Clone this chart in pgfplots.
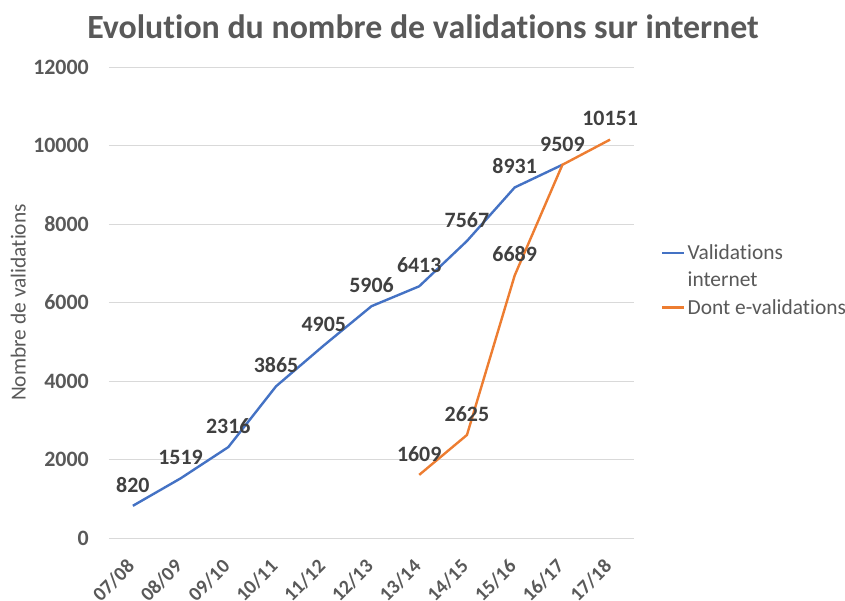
\documentclass[border=0pt]{standalone}
\usepackage{pgfplots}
\pgfplotsset{compat=1.18}
\usepackage{fontspec}
\setmainfont{Carlito}[Ligatures=NoCommon]
\definecolor{cblue}{HTML}{4472C4}
\definecolor{corange}{HTML}{ED7D31}
\definecolor{tgray}{HTML}{595959}
\definecolor{dgray}{HTML}{404040}
\definecolor{ggray}{HTML}{D9D9D9}
\begin{document}
\begin{tikzpicture}
\useasboundingbox (-109bp,-63bp) rectangle (736bp,538bp);
\begin{axis}[
  scale only axis,
  width=525bp, height=471bp,
  xmin=-0.5, xmax=10.5,
  ymin=0, ymax=12000,
  ytick={0,2000,4000,6000,8000,10000,12000},
  xtick={0,1,2,3,4,5,6,7,8,9,10},
  xticklabels={07/08,08/09,09/10,10/11,11/12,12/13,13/14,14/15,15/16,16/17,17/18},
  axis line style={draw=none},
  major tick length=0pt,
  ymajorgrids,
  grid style={ggray, line width=0.8bp},
  /pgf/number format/assume math mode=true,
  scaled y ticks=false,
  yticklabel style={/pgf/number format/1000 sep={}, font=\fontsize{22}{26}\selectfont\bfseries, text=tgray, anchor=east, inner sep=0pt, xshift=-20bp},
  xticklabel style={font=\fontsize{20}{24}\selectfont\bfseries, text=tgray, rotate=45, anchor=north east, inner sep=0pt, xshift=-19bp, yshift=-8.8bp},
  title={Evolution du nombre de validations sur internet},
  title style={font=\fontsize{34}{40}\selectfont\bfseries, text=tgray, at={(0.5,1)}, anchor=center, xshift=51.5bp, yshift=34bp},
  ylabel={Nombre de validations},
  ylabel style={font=\fontsize{21.5}{25}\selectfont, text=tgray, at={(axis description cs:-0.173,0.5)}, anchor=center},
  legend style={draw=none, at={(1,0.547)}, anchor=west, xshift=27bp, font=\fontsize{21.5}{26}\selectfont, text=tgray, inner sep=0pt, row sep=7bp, cells={anchor=west}},
  legend image post style={line width=2.4bp},
  legend image code/.code={\draw[#1] (0bp,0bp) -- (22bp,0bp);},
  point meta=explicit symbolic,
  nodes near coords,
  every node near coord/.append style={font=\fontsize{22}{26}\selectfont\bfseries, text=dgray, anchor=south, yshift=9bp},
]
\addplot[cblue, line width=2.4bp] coordinates {
  (0,820) [820]
  (1,1519) [1519]
  (2,2316) [2316]
  (3,3865) [3865]
  (4,4905) [4905]
  (5,5906) [5906]
  (6,6413) [6413]
  (7,7567) [7567]
  (8,8931) [8931]
  (9,9509) [9509]
};
\addlegendentry{Validations}
\addlegendimage{empty legend}
\addlegendentry{internet}
\addplot[corange, line width=2.4bp] coordinates {
  (6,1609) [1609]
  (7,2625) [2625]
  (8,6689) [6689]
  (9,9509) [{}]
  (10,10151) [10151]
};
\addlegendentry{Dont e-validations}
\end{axis}
\end{tikzpicture}
\end{document}
